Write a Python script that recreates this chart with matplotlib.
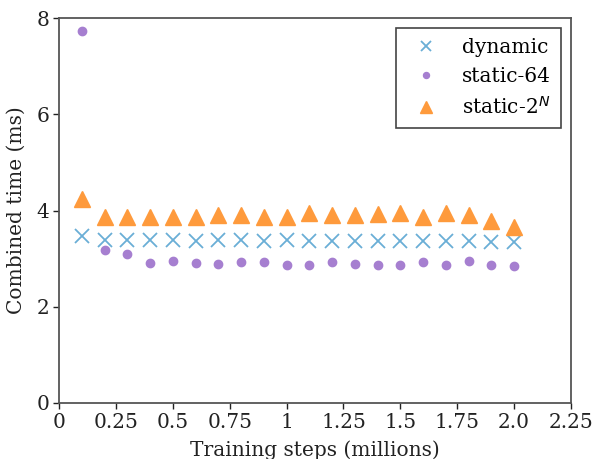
import matplotlib
matplotlib.use("Agg")
import matplotlib.pyplot as plt

plt.rcParams['font.family'] = ['DejaVu Serif']

steps = [0.1, 0.2, 0.3, 0.4, 0.5, 0.6, 0.7, 0.8, 0.9, 1.0,
         1.1, 1.2, 1.3, 1.4, 1.5, 1.6, 1.7, 1.8, 1.9, 2.0]
dynamic = [3.48, 3.38, 3.38, 3.38, 3.38, 3.37, 3.38, 3.38, 3.37, 3.38,
           3.37, 3.37, 3.36, 3.37, 3.37, 3.37, 3.37, 3.36, 3.35, 3.35]
static_64 = [7.72, 3.18, 3.10, 2.90, 2.95, 2.90, 2.88, 2.93, 2.93, 2.87,
             2.86, 2.94, 2.89, 2.87, 2.87, 2.94, 2.86, 2.95, 2.86, 2.85]
static_2n = [4.24, 3.86, 3.86, 3.86, 3.86, 3.87, 3.91, 3.90, 3.86, 3.87,
             3.95, 3.91, 3.90, 3.92, 3.94, 3.87, 3.94, 3.90, 3.78, 3.66]
xticks = [0, 0.25, 0.5, 0.75, 1, 1.25, 1.5, 1.75, 2.0, 2.25]
xticklabels = ['0', '0.25', '0.5', '0.75', '1', '1.25', '1.5', '1.75', '2.0', '2.25']
yticks = [0, 2, 4, 6, 8]

FS = 14.5
fig = plt.figure(figsize=(5.95, 4.59), dpi=100)
ax = fig.add_axes([59/595, 1 - 403/459, (571-59)/595, (403-18)/459])

ax.plot(steps, dynamic, linestyle='none', marker='x', markersize=10.5,
        markeredgewidth=1.3, color='#6aaed6', label='dynamic')
ax.plot(steps, static_64, linestyle='none', marker='o', markersize=6,
        color='#a67fd0', label='static-64')
ax.plot(steps, static_2n, linestyle='none', marker='^', markersize=11.5,
        color='#fe9a3c', label='static-2$^N$')

ax.set_xlim(0, 2.25)
ax.set_ylim(0, 8)
ax.set_xticks(xticks)
ax.set_xticklabels(xticklabels)
ax.set_yticks(yticks)
ax.tick_params(labelsize=FS, direction='out', length=4, width=1, colors='#222222', pad=3)
ax.set_xlabel('Training steps (millions)', fontsize=FS, color='#222222', labelpad=6.5)
ax.set_ylabel('Combined time (ms)', fontsize=FS, color='#222222', labelpad=7.5)
for s in ax.spines.values():
    s.set_linewidth(1.3)
    s.set_color('#555555')

leg = ax.legend(loc='upper right', fontsize=FS, fancybox=False, markerscale=0.72,
                edgecolor='#444444', framealpha=1, borderpad=0.5,
                handletextpad=0.8, labelspacing=0.5)
leg.get_frame().set_linewidth(1.2)

fig.savefig('out.png', dpi=100)
